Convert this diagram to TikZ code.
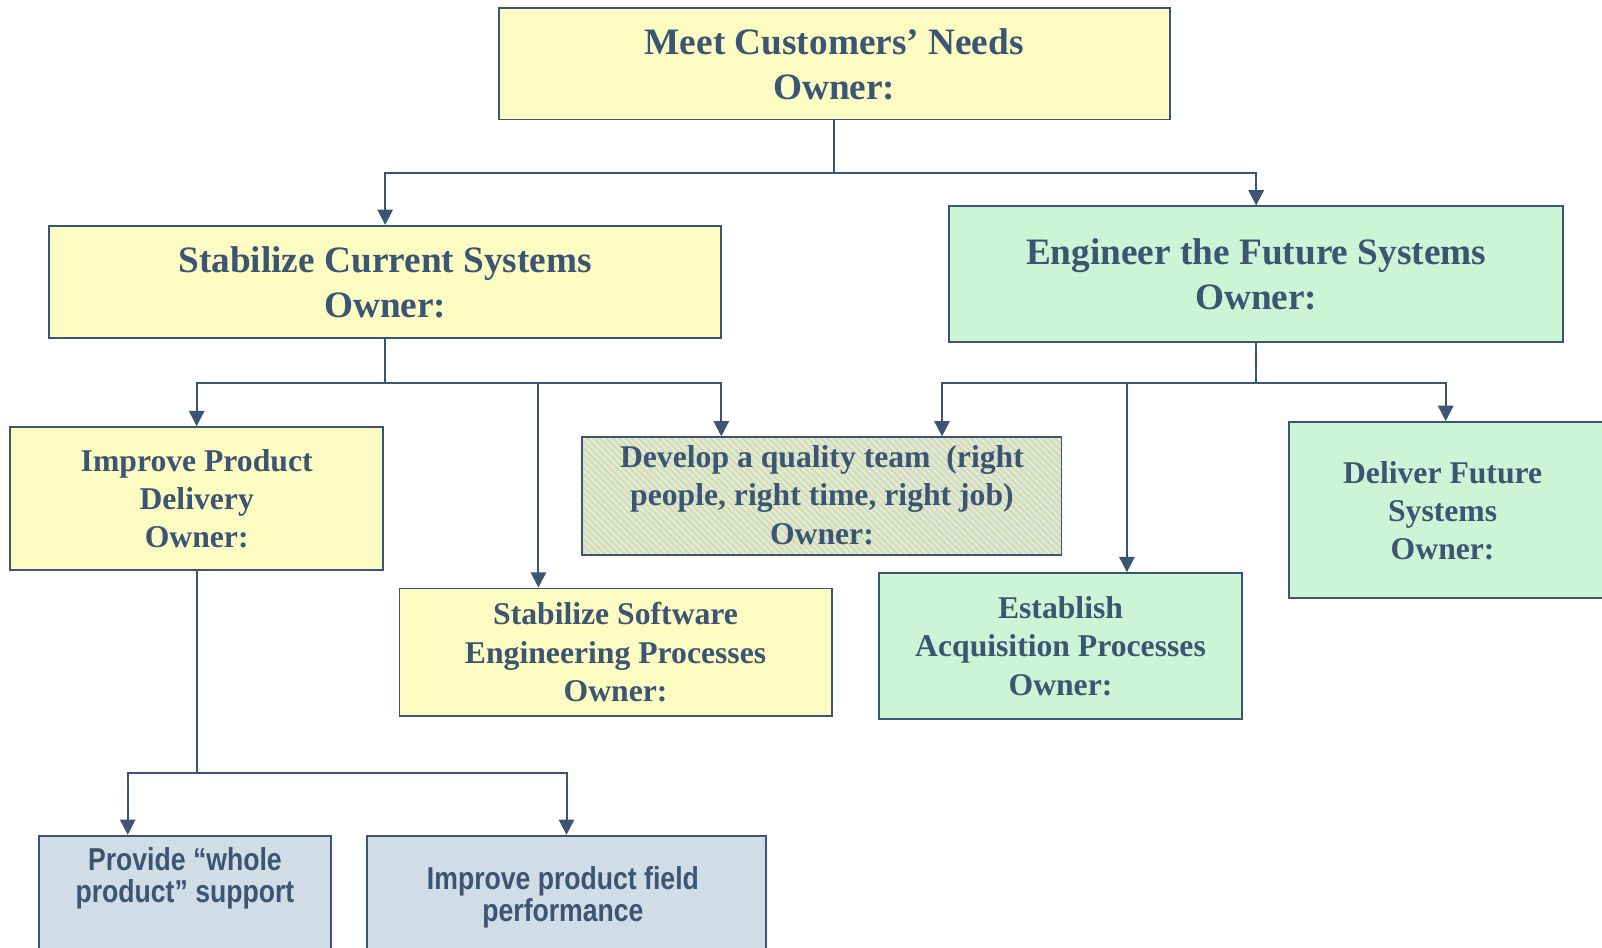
\documentclass[tikz,border=0pt]{standalone}
\usepackage{fontspec}
\setmainfont{Liberation Serif}
\newfontfamily\narrowsans[FakeStretch=0.84]{Liberation Sans}
\usetikzlibrary{arrows.meta,patterns.meta}
\definecolor{ink}{HTML}{3B5573}
\definecolor{yfill}{HTML}{FCFCC2}
\definecolor{gfill}{HTML}{CCF5D6}
\definecolor{bfill}{HTML}{D0DCE6}
\definecolor{hatchbg}{HTML}{CCDAE0}
\definecolor{hatchfg}{HTML}{EEF0A6}
\begin{document}
\begin{tikzpicture}[x=1pt,y=-1pt,
  box/.style={draw=ink, line width=1.8pt, inner sep=0pt, align=center, text=ink},
  txt/.style={inner sep=0pt, align=center, text=ink},
  big/.style={font=\fontsize{36.5}{44}\selectfont\bfseries},
  mid/.style={font=\fontsize{31}{37.5}\selectfont\bfseries},
  small/.style={font=\narrowsans\fontsize{31}{31}\selectfont\bfseries},
  conn/.style={draw=ink, line width=2pt},
  arr/.style={conn, -{Triangle[width=15pt,length=15pt]}}]
\clip (0,0) rectangle (1568,927);
\fill[white] (0,0) rectangle (1568,927);

% level 1
\node[box, fill=yfill, big, minimum width=657pt, minimum height=109pt] (top) at (816.5,62.5) {Meet Customers’ Needs\\Owner:};

% level 2
\node[box, fill=yfill, big, minimum width=658pt, minimum height=110pt] (sc) at (377,276) {Stabilize Current Systems\\Owner:};
\node[box, fill=gfill, big, minimum width=601pt, minimum height=133pt] (ef) at (1229.5,268.5) {Engineer the Future Systems\\Owner:};

% level 3
\node[box, fill=yfill, mid, minimum width=365pt, minimum height=140pt] (ipd) at (192.5,488) {Improve Product\\Delivery\\Owner:};
\node[box, preaction={fill=hatchbg}, pattern={Lines[angle=-45,distance=4.5pt,line width=1.8pt]}, pattern color=hatchfg, minimum width=469pt, minimum height=115pt] (dqt) at (804.5,485.5) {};
\node[txt, mid] (dqttext) at ([yshift=1pt]dqt.center) {Develop a quality team~~(right\\people, right time, right job)\\Owner:};
\node[box, fill=yfill, mid, minimum width=423pt, minimum height=125pt] (ssw) at (602.5,638.5) {Stabilize Software\\Engineering Processes\\Owner:};
\node[box, fill=gfill, mid, minimum width=356pt, minimum height=143pt] (eap) at (1038,632.5) {Establish\\Acquisition Processes\\Owner:};
\node[box, fill=gfill, minimum width=312pt, minimum height=172pt] (dfs) at (1418,499) {};
\node[txt, mid] (dfstext) at (1412,500) {Deliver Future\\Systems\\Owner:};

% level 4
\node[box, fill=bfill, minimum width=286pt, minimum height=150pt] (prov) at (181,893) {};
\node[txt, small] (provtext) at (181,859.5) {Provide “whole\\product” support};
\node[box, fill=bfill, minimum width=391pt, minimum height=150pt] (ipf) at (554.5,893) {};
\node[txt, small] (ipftext) at (551,878.5) {Improve product field\\performance};

% connectors
\draw[arr] (top.south) -- ++(0,51) -| (sc.north);
\draw[arr] (top.south) -- ++(0,51) -| (ef.north);

\draw[arr] (sc.south) -- ++(0,43) -| (ipd.north);
\draw[arr] (sc.south) -- ++(0,43) -| ([xshift=-75.5pt]ssw.north);
\draw[arr] (sc.south) -- ++(0,43) -| ([xshift=-98.5pt]dqt.north);

\draw[arr] (ef.south) -- ++(0,39) -| ([xshift=117.5pt]dqt.north);
\draw[arr] (ef.south) -- ++(0,39) -| ([xshift=65pt]eap.north);
\draw[arr] (ef.south) -- ++(0,39) -| ([xshift=-3pt]dfs.north);

\draw[arr] (ipd.south) -- ++(0,198) -| ([xshift=-56pt]prov.north);
\draw[arr] (ipd.south) -- ++(0,198) -| (ipf.north);
\end{tikzpicture}
\end{document}
